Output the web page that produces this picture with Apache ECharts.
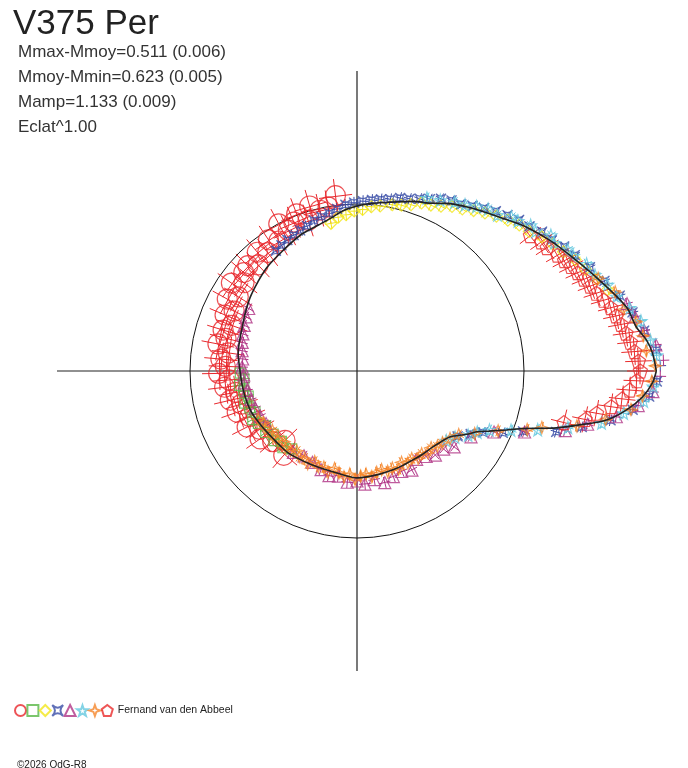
<!DOCTYPE html>
<html>
<head>
<meta charset="utf-8">
<title>V375 Per</title>
<script src="https://cdn.jsdelivr.net/npm/echarts@6/dist/echarts.min.js"></script>
<style>
  html, body { margin: 0; padding: 0; background: #fff; }
  #main { width: 688px; height: 768px; }
</style>
</head>
<body>
<div id="main"></div>
<script>
// phase angle (deg) and relative radius of the mean curve
const fitAngle = [0, 3.5, 6.1, 8.9, 13.3, 20.5, 27.8, 34.2, 40.3, 46, 52.6, 57, 61.8, 65.7, 72, 79.9, 85, 90, 95, 99,
  105, 112.7, 121.4, 130.9, 138, 145.3, 152, 159.1, 165, 171.4, 180.5, 189.5, 200, 210.5, 222, 229.9, 241.5, 249,
  256.6, 263, 270, 275.4, 282, 290, 296, 302.2, 308, 315, 320, 324.6, 330, 333.1, 335.5, 338.5, 341, 344.1, 346.4,
  348.9, 351.8, 354.8, 357.7, 360];
const fitRadius = [1.796, 1.776, 1.747, 1.697, 1.662, 1.554, 1.462, 1.397, 1.334, 1.27, 1.213, 1.179, 1.141, 1.104,
  1.07, 1.028, 1.01, 0.99, 0.965, 0.935, 0.905, 0.883, 0.849, 0.824, 0.80, 0.779, 0.757, 0.737, 0.728, 0.721, 0.701,
  0.692, 0.682, 0.660, 0.644, 0.642, 0.627, 0.622, 0.622, 0.63, 0.641, 0.638, 0.634, 0.631, 0.630, 0.630, 0.636,
  0.644, 0.66, 0.683, 0.76, 0.806, 0.87, 0.965, 1.06, 1.245, 1.374, 1.526, 1.634, 1.720, 1.774, 1.796];

// observations: [phase angle deg, radius]
const obsCircle = [[97, 1.06], [100, 1.00], [103, 0.99], [106, 1.03], [108, 0.95], [111, 1.01], [113, 0.97], [116, 0.94],
  [118, 1.00], [121, 0.91], [124, 0.95], [127, 0.89], [130, 0.93], [133, 0.87], [136, 0.91], [139, 0.90], [142, 0.86],
  [145, 0.92], [148, 0.84], [151, 0.89], [154, 0.82], [157, 0.86], [160, 0.80], [163, 0.84], [166, 0.81], [169, 0.85],
  [172, 0.78], [175, 0.82], [178, 0.79], [181, 0.83], [184, 0.77], [187, 0.80], [190, 0.74], [193, 0.78], [196, 0.72],
  [199, 0.76], [203, 0.70], [207, 0.74], [211, 0.68], [215, 0.71], [220, 0.66], [224, 0.60], [229, 0.67]];
const obsSquare = [[181, 0.70], [184, 0.68], [187, 0.71], [190, 0.69], [193, 0.67], [196, 0.70], [199, 0.68],
  [202, 0.66], [205, 0.69], [208, 0.67], [211, 0.64], [214, 0.66], [217, 0.63], [220, 0.65], [223, 0.62], [226, 0.64],
  [230, 0.61]];
const obsDiamond = [[100, 0.90], [97, 0.93], [94, 0.94], [91, 0.96], [88, 0.97], [85, 0.99], [82, 1.00], [78, 1.02],
  [75, 1.03], [72, 1.05], [69, 1.08], [66, 1.09], [63, 1.11], [60, 1.14], [57, 1.16], [54, 1.19], [51, 1.22], [48, 1.25],
  [45, 1.28], [42, 1.31], [39, 1.33], [36, 1.37], [33, 1.40], [30, 1.43], [27, 1.47], [24, 1.50], [21, 1.54], [18, 1.58]];
const obsAstroid = [[124, 0.87], [121, 0.88], [118, 0.89], [115, 0.90], [112, 0.91], [109, 0.92], [106, 0.94],
  [103, 0.95], [100, 0.96], [97, 0.98], [94, 1.00], [91, 1.01], [88, 1.02], [85, 1.03], [82, 1.04], [79, 1.05],
  [76, 1.07], [73, 1.08], [70, 1.10], [67, 1.12], [64, 1.15], [61, 1.17], [58, 1.18], [55, 1.21], [52, 1.24], [49, 1.27],
  [46, 1.30], [43, 1.33], [40, 1.35], [37, 1.39], [34, 1.41], [31, 1.45], [28, 1.48], [24, 1.53], [20, 1.58], [16, 1.64],
  [12, 1.69], [8, 1.74], [4, 1.80], [1, 1.82], [358, 1.80], [355, 1.76], [352, 1.67], [349, 1.55], [346, 1.39],
  [343, 1.25], [340, 1.06], [337, 0.95], [334, 0.84], [331, 0.78], [327, 0.72]];
const obsTriangle = [[150, 0.75], [154, 0.74], [158, 0.73], [162, 0.72], [166, 0.71], [170, 0.70], [174, 0.69],
  [178, 0.69], [182, 0.68], [186, 0.68], [190, 0.67], [195, 0.66], [200, 0.65], [205, 0.64], [210, 0.63], [232, 0.62],
  [238, 0.60], [244, 0.61], [250, 0.63], [255, 0.65], [260, 0.64], [265, 0.67], [270, 0.66], [274, 0.68], [279, 0.66],
  [284, 0.69], [289, 0.67], [294, 0.66], [299, 0.68], [304, 0.64], [309, 0.66], [313, 0.69], [318, 0.70], [322, 0.74],
  [330, 0.79], [336, 0.90], [340, 1.07], [344, 1.30], [347, 1.42], [350, 1.58], [353, 1.70], [356, 1.78], [359, 1.82],
  [2, 1.84], [5, 1.80], [8, 1.74], [11, 1.70], [14, 1.67]];
const obsStar = [[68, 1.12], [64, 1.14], [60, 1.17], [57, 1.19], [54, 1.22], [51, 1.25], [48, 1.26], [45, 1.31],
  [43, 1.32], [40, 1.36], [38, 1.36], [35, 1.42], [33, 1.41], [30, 1.46], [28, 1.47], [25, 1.52], [22, 1.54], [19, 1.59],
  [16, 1.62], [13, 1.68], [10, 1.73], [6, 1.77], [3, 1.80], [357, 1.78], [354, 1.73], [351, 1.62], [348, 1.50],
  [345, 1.31], [342, 1.14], [339, 0.99], [336, 0.87], [333, 0.81], [330, 0.77], [326, 0.71], [322, 0.68]];
const obsSparkle = [[206, 0.66], [209, 0.64], [212, 0.65], [215, 0.62], [218, 0.64], [221, 0.63], [224, 0.61],
  [227, 0.63], [230, 0.62], [233, 0.60], [236, 0.62], [239, 0.61], [242, 0.63], [245, 0.60], [248, 0.62], [251, 0.61],
  [254, 0.63], [257, 0.60], [260, 0.62], [263, 0.64], [266, 0.62], [269, 0.65], [272, 0.63], [275, 0.62], [278, 0.64],
  [281, 0.62], [284, 0.61], [287, 0.63], [290, 0.62], [293, 0.64], [296, 0.61], [299, 0.63], [302, 0.62], [305, 0.64],
  [308, 0.63], [311, 0.65], [314, 0.64], [317, 0.66], [320, 0.67], [324, 0.69], [328, 0.72], [332, 0.80], [337, 0.92],
  [341, 1.08], [343, 1.16], [346, 1.36], [349, 1.52], [352, 1.66], [355, 1.72], [358, 1.77], [1, 1.79], [4, 1.74],
  [7, 1.73], [10, 1.70], [13, 1.64], [17, 1.62], [21, 1.55]];
const obsPentagon = [[38, 1.32], [35, 1.35], [33, 1.36], [30, 1.39], [28, 1.41], [26, 1.43], [24, 1.45], [22, 1.47],
  [20, 1.49], [18, 1.51], [16, 1.54], [14, 1.57], [12, 1.59], [10, 1.61], [8, 1.63], [6, 1.65], [4, 1.67], [2, 1.69],
  [0, 1.70], [358, 1.68], [356, 1.64], [354, 1.60], [352, 1.54], [350, 1.46], [348, 1.40], [346, 1.28]];

// error bar half-length per data set, in radius units
const obsError = [0.1, 0.035, 0.035, 0.035, 0.035, 0.035, 0.035, 0.08];
const obsNames = ['cercle', 'carre', 'losange', 'astroide', 'triangle', 'etoile', 'etincelle', 'Fernand van den Abbeel'];
const obsData = [obsCircle, obsSquare, obsDiamond, obsAstroid, obsTriangle, obsStar, obsSparkle, obsPentagon];

const obsColors = ['#e8282d', '#5ab847', '#f2e61b', '#3a4ea6', '#b03486', '#64c8de', '#f5862a', '#ea2c2c'];
const obsSymbols = [
  'circle',
  'rect',
  'diamond',
  'path://M0,0 Q5,5 10,0 Q5,5 10,10 Q5,5 0,10 Q5,5 0,0 Z',
  'triangle',
  'path://M5,0 L6.2,3.6 L10,3.7 L7,6 L8.1,9.6 L5,7.4 L1.9,9.6 L3,6 L0,3.7 L3.8,3.6 Z',
  'path://M5,0 L6.3,3.7 L10,5 L6.3,6.3 L5,10 L3.7,6.3 L0,5 L3.7,3.7 Z',
  'path://M5,0 L10,3.8 L8.1,10 L1.9,10 L0,3.8 Z'
];
const obsSizes = [20, 10, 12, 10, 12, 12, 12, 14];

const chart = echarts.init(document.getElementById('main'));

function errorBars(err, color) {
  return function (params, api) {
    const r = api.value(0), a = api.value(1);
    const da = err / Math.max(r, 0.1) * 180 / Math.PI;
    const p1 = api.coord([r - err, a]), p2 = api.coord([r + err, a]);
    const p3 = api.coord([r, a - da]), p4 = api.coord([r, a + da]);
    const style = {stroke: color, lineWidth: 1};
    return {
      type: 'group',
      children: [
        {type: 'line', shape: {x1: p1[0], y1: p1[1], x2: p2[0], y2: p2[1]}, style: style},
        {type: 'line', shape: {x1: p3[0], y1: p3[1], x2: p4[0], y2: p4[1]}, style: style}
      ]
    };
  };
}

const series = [];
obsData.forEach((list, i) => {
  const pts = list.map(p => [p[1], p[0]]);
  series.push({
    type: 'custom',
    coordinateSystem: 'polar',
    polarIndex: 1,
    silent: true,
    renderItem: errorBars(obsError[i], obsColors[i]),
    data: pts,
    z: 2
  });
  series.push({
    name: obsNames[i],
    type: 'scatter',
    coordinateSystem: 'polar',
    polarIndex: 1,
    symbol: obsSymbols[i],
    symbolSize: obsSizes[i],
    itemStyle: {color: 'rgba(0,0,0,0)', borderColor: obsColors[i], borderWidth: 1.2},
    data: pts,
    z: 3
  });
});

series.push({
  type: 'line',
  coordinateSystem: 'polar',
  polarIndex: 1,
  data: fitAngle.map((a, i) => [fitRadius[i], a]),
  showSymbol: false,
  smooth: 0.3,
  lineStyle: {color: '#222', width: 1.6},
  silent: true,
  z: 5
});

const font = "'Liberation Sans', Arial, sans-serif";

chart.setOption({
  animation: false,
  backgroundColor: '#fff',
  title: [
    {text: 'V375 Per', left: 8, top: 2, textStyle: {fontSize: 35, fontWeight: 'normal', color: '#222', fontFamily: font}},
    {
      text: 'Mmax-Mmoy=0.511 (0.006)\nMmoy-Mmin=0.623 (0.005)\nMamp=1.133 (0.009)\nEclat^1.00',
      left: 13, top: 35,
      textStyle: {fontSize: 17, lineHeight: 25, fontWeight: 'normal', color: '#333', fontFamily: font}
    },
    {text: '©2026 OdG-R8', left: 12, top: 755, textStyle: {fontSize: 10, fontWeight: 'normal', color: '#222', fontFamily: font}}
  ],
  legend: {
    left: 9, top: 699,
    itemWidth: 11, itemHeight: 11, itemGap: -0.6,
    data: obsNames,
    selectedMode: false,
    formatter: name => (name === obsNames[obsNames.length - 1] ? name : ''),
    textStyle: {fontSize: 10.5, color: '#222', fontFamily: font}
  },
  polar: [
    {center: [357, 371], radius: 167},
    {center: [357, 371], radius: 300}
  ],
  angleAxis: [
    {
      polarIndex: 0, type: 'value', min: 0, max: 360, startAngle: 0, clockwise: false,
      axisLine: {show: true, lineStyle: {color: '#111', width: 1}},
      axisTick: {show: false}, axisLabel: {show: false}, splitLine: {show: false}
    },
    {
      polarIndex: 1, type: 'value', min: 0, max: 360, interval: 90, startAngle: 0, clockwise: false,
      axisLine: {show: false}, axisTick: {show: false}, axisLabel: {show: false},
      splitLine: {show: true, lineStyle: {color: '#222', width: 1.2}}
    }
  ],
  radiusAxis: [
    {polarIndex: 0, type: 'value', min: 0, max: 1, show: false},
    {
      polarIndex: 1, type: 'value', min: 0, max: 1.8,
      axisLine: {show: false}, axisTick: {show: false}, axisLabel: {show: false}, splitLine: {show: false}
    }
  ],
  series: series
});
</script>
</body>
</html>
